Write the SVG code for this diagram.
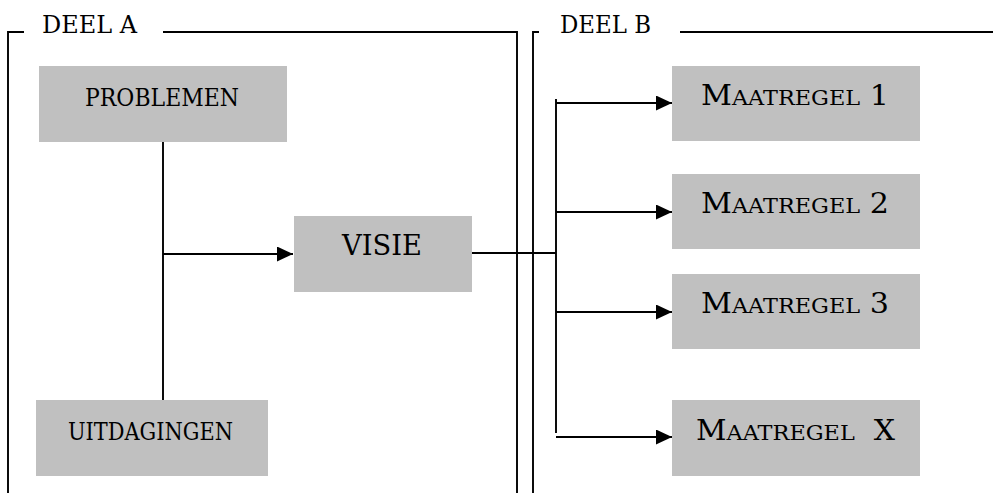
<svg xmlns="http://www.w3.org/2000/svg" width="993" height="493" viewBox="0 0 993 493">
<style>
.box{fill:#c0c0c0}
.ln{fill:none;stroke:#000;stroke-width:1.9}
.t{font-family:"DejaVu Serif","Liberation Serif",serif;fill:#000}
</style>
<defs>
<marker id="ah" viewBox="0 0 16 15" refX="16" refY="7.5" markerWidth="16" markerHeight="15" markerUnits="userSpaceOnUse" orient="auto">
<path d="M0,0 L16,7.5 L0,15 Z" fill="#000"/>
</marker>
</defs>
<rect width="993" height="493" fill="#fff"/>
<g id="frame-a">
<path class="ln" d="M8,493 V32 H24 M163,32 H517 V493"/>
<text class="t" x="42" y="33" font-size="25" textLength="95" lengthAdjust="spacingAndGlyphs">DEEL A</text>
</g>
<g id="frame-b">
<path class="ln" d="M533,493 V32 H539 M680,32 H993"/>
<text class="t" x="560" y="33" font-size="25" textLength="91" lengthAdjust="spacingAndGlyphs">DEEL B</text>
</g>
<g id="connectors">
<path class="ln" d="M163,142 V400"/>
<path class="ln" d="M163,254 H293" marker-end="url(#ah)"/>
<path class="ln" d="M472,253 H556"/>
<path class="ln" d="M556,99 V433"/>
<path class="ln" d="M556,103 H672" marker-end="url(#ah)"/>
<path class="ln" d="M556,212 H672" marker-end="url(#ah)"/>
<path class="ln" d="M556,312 H672" marker-end="url(#ah)"/>
<path class="ln" d="M556,437 H672" marker-end="url(#ah)"/>
</g>
<g id="problemen">
<rect class="box" x="39" y="66" width="248" height="76"/>
<text class="t" x="85" y="106" font-size="24" textLength="154" lengthAdjust="spacingAndGlyphs">PROBLEMEN</text>
</g>
<g id="uitdagingen">
<rect class="box" x="36" y="400" width="232" height="76"/>
<text class="t" x="68" y="440" font-size="24" textLength="165" lengthAdjust="spacingAndGlyphs">UITDAGINGEN</text>
</g>
<g id="visie">
<rect class="box" x="294" y="216" width="178" height="76"/>
<text class="t" x="342" y="255" font-size="28" textLength="80" lengthAdjust="spacingAndGlyphs">VISIE</text>
</g>
<g id="maatregel-1">
<rect class="box" x="672" y="66" width="248" height="75"/>
<text class="t" x="701" y="105" font-size="27" textLength="188" lengthAdjust="spacingAndGlyphs">M<tspan font-size="20">AATREGEL</tspan> 1</text>
</g>
<g id="maatregel-2">
<rect class="box" x="672" y="174" width="248" height="75"/>
<text class="t" x="701" y="213" font-size="27" textLength="188" lengthAdjust="spacingAndGlyphs">M<tspan font-size="20">AATREGEL</tspan> 2</text>
</g>
<g id="maatregel-3">
<rect class="box" x="672" y="274" width="248" height="75"/>
<text class="t" x="701" y="313" font-size="27" textLength="188" lengthAdjust="spacingAndGlyphs">M<tspan font-size="20">AATREGEL</tspan> 3</text>
</g>
<g id="maatregel-x">
<rect class="box" x="672" y="400" width="248" height="76"/>
<text class="t" x="696" y="440" font-size="28" textLength="199" lengthAdjust="spacingAndGlyphs" style="white-space:pre">M<tspan font-size="21">AATREGEL</tspan>  X</text>
</g>
</svg>
